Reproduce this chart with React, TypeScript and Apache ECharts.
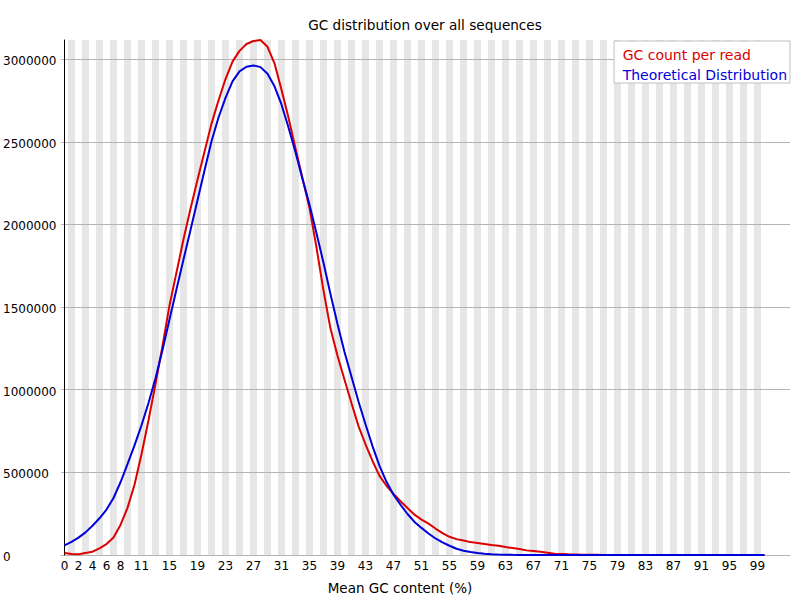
import React, { useEffect, useRef } from "react";
import * as echarts from "echarts";

// GC count per read (red), one value per mean GC % from 0 to 100
const gcCountPerRead = [
  12000, 6000, 4000, 12000, 20000, 40000, 66000, 106000, 182000, 285000,
  425000, 610000, 815000, 1035000, 1265000, 1510000, 1710000, 1910000, 2095000, 2270000,
  2440000, 2610000, 2750000, 2880000, 2985000, 3050000, 3092000, 3110000, 3116000, 3075000,
  2975000, 2815000, 2645000, 2460000, 2280000, 2100000, 1860000, 1600000, 1370000, 1205000,
  1060000, 918000, 780000, 670000, 569000, 479000, 419000, 370000, 325000, 284000,
  244000, 214000, 190000, 160000, 132000, 110000, 96000, 88000, 78000, 72000,
  66000, 60000, 56000, 48000, 42000, 36000, 28000, 24000, 20000, 14000,
  8000, 6000, 4000, 3000, 2000, 1000, 800, 600, 500, 400,
  300, 250, 200, 150, 100, 80, 60, 50, 40, 30,
  20, 15, 10, 8, 6, 4, 3, 2, 1, 1,
  0,
];

// Theoretical distribution (blue)
const theoreticalDistribution = [
  58000, 80000, 105000, 137000, 177000, 222000, 275000, 345000, 440000, 550000,
  663000, 785000, 920000, 1070000, 1240000, 1425000, 1608000, 1788000, 1967000, 2147000,
  2327000, 2503000, 2647000, 2766000, 2866000, 2926000, 2954000, 2962000, 2952000, 2912000,
  2836000, 2726000, 2587000, 2437000, 2275000, 2120000, 1947000, 1768000, 1578000, 1398000,
  1228000, 1078000, 929000, 791000, 659000, 539000, 443000, 365000, 304000, 248000,
  200000, 164000, 130000, 100000, 76000, 56000, 38000, 26000, 18000, 12000,
  8000, 5000, 3000, 2000, 1000, 600, 400, 300, 200, 100,
  50, 30, 20, 10, 5, 3, 2, 1, 0, 0,
  0, 0, 0, 0, 0, 0, 0, 0, 0, 0,
  0, 0, 0, 0, 0, 0, 0, 0, 0, 0,
  0,
];

// Mean GC content categories (%)
const gcPercent = gcCountPerRead.map((_, i) => i);

// x tick labels shown
const xTickLabels = [0, 2, 4, 6, 8, 11, 15, 19, 23, 27, 31, 35, 39, 43, 47, 51, 55, 59, 63, 67, 71, 75, 79, 83, 87, 91, 95, 99];

const yTickStep = 500000;

const TITLE = "GC distribution over all sequences";
const X_NAME = "Mean GC content (%)";
const SERIES_RED = "GC count per read";
const SERIES_BLUE = "Theoretical Distribution";

const FONT = "DejaVu Sans";
const RED = "#dc0000";
const BLUE = "#0000dc";
const GRID_GREY = "#b4b4b4";
const BAND_GREY = "#e6e6e6";

const GRID_LEFT = 61;
const GRID_RIGHT_EDGE = 790;
const BAND_PX = 7;

export default function App() {
  const ref = useRef<HTMLDivElement>(null);

  useEffect(() => {
    if (!ref.current) return;
    const chart = echarts.init(ref.current, null, { renderer: "svg" });
    const labelSet = new Set(xTickLabels);
    const xMax = (GRID_RIGHT_EDGE - GRID_LEFT) / BAND_PX - 0.5;
    const bands = gcPercent
      .filter((g) => g % 2 === 1)
      .map((g) => [{ xAxis: g - 0.5 }, { xAxis: g + 0.5 }]);

    chart.setOption({
      animation: false,
      textStyle: { fontFamily: FONT },
      title: {
        text: TITLE,
        left: 425,
        top: 18,
        padding: 0,
        textAlign: "center",
        textStyle: { fontFamily: FONT, fontSize: 13.6, fontWeight: "normal", color: "#000" },
      },
      legend: {
        data: [
          { name: SERIES_RED, textStyle: { color: RED } },
          { name: SERIES_BLUE, textStyle: { color: BLUE } },
        ],
        orient: "vertical",
        right: 10,
        top: 41,
        padding: [7, 3, 1, -2],
        itemWidth: 0,
        itemHeight: 14,
        itemGap: 6,
        itemStyle: { opacity: 0 },
        lineStyle: { opacity: 0 },
        selectedMode: false,
        backgroundColor: "#ffffff",
        borderColor: "#c0c0c0",
        borderWidth: 1,
        textStyle: { fontFamily: FONT, fontSize: 14 },
      },
      grid: { left: GRID_LEFT, right: 800 - GRID_RIGHT_EDGE, top: 40, bottom: 40 },
      xAxis: {
        type: "value",
        min: -0.5,
        max: xMax,
        interval: 0.5,
        name: X_NAME,
        nameLocation: "middle",
        nameGap: 26,
        nameTextStyle: { fontFamily: FONT, fontSize: 13.5, color: "#000", padding: [0, 51, 0, 0] },
        axisLine: { show: true, lineStyle: { color: GRID_GREY, width: 1 } },
        axisTick: { show: false },
        splitLine: { show: false },
        axisLabel: {
          color: "#000",
          fontFamily: FONT,
          fontSize: 12,
          margin: 5,
          formatter: (v: number) => (labelSet.has(v) ? String(v) : ""),
        },
      },
      yAxis: {
        type: "value",
        min: 0,
        max: Math.max(...gcCountPerRead),
        interval: yTickStep,
        z: 3,
        axisLine: { show: true, lineStyle: { color: "#000", width: 1 } },
        axisTick: { show: false },
        splitLine: { show: true, showMaxLine: false, lineStyle: { color: GRID_GREY, width: 1 } },
        axisLabel: {
          align: "left",
          verticalAlign: "top",
          lineHeight: 4,
          margin: 58,
          color: "#000",
          fontFamily: FONT,
          fontSize: 12,
          showMaxLabel: false,
          formatter: (v: number) => String(v),
        },
      },
      series: [
        {
          type: "line",
          name: "bands",
          data: [],
          z: 1,
          silent: true,
          markArea: { silent: true, itemStyle: { color: BAND_GREY }, data: bands },
        },
        {
          type: "line",
          name: SERIES_RED,
          data: gcPercent.map((g, i) => [g, gcCountPerRead[i]]),
          symbol: "none",
          z: 5,
          lineStyle: { color: RED, width: 2 },
          itemStyle: { color: RED },
        },
        {
          type: "line",
          name: SERIES_BLUE,
          data: gcPercent.map((g, i) => [g, theoreticalDistribution[i]]),
          symbol: "none",
          z: 5,
          lineStyle: { color: BLUE, width: 2 },
          itemStyle: { color: BLUE },
        },
      ],
    });
    return () => chart.dispose();
  }, []);

  return (
    <div
      ref={ref}
      style={{ position: "fixed", left: 0, top: 0, width: 800, height: 600, background: "#fff" }}
    />
  );
}
